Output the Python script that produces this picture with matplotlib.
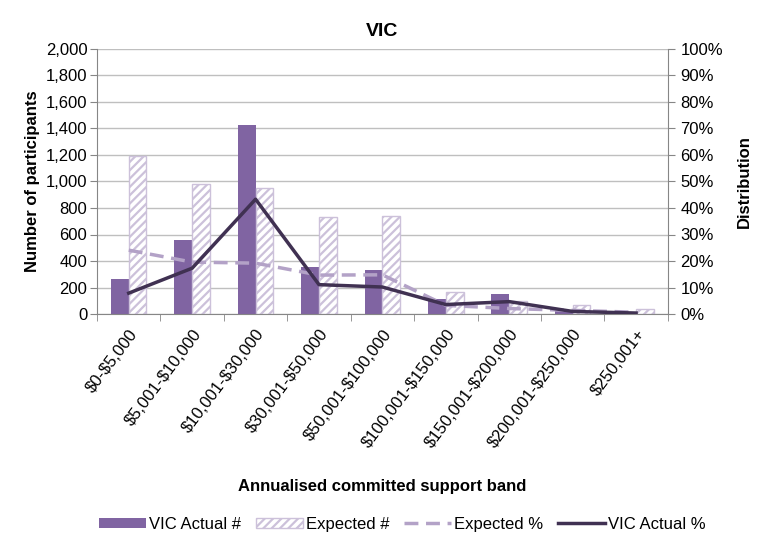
import numpy as np
import matplotlib
matplotlib.use("Agg")
import matplotlib.pyplot as plt
from matplotlib.patches import Patch
from matplotlib.lines import Line2D
from matplotlib.ticker import FuncFormatter, PercentFormatter

plt.rcParams['font.family'] = ['Liberation Sans', 'DejaVu Sans']
plt.rcParams['text.parse_math'] = False
plt.rcParams['hatch.linewidth'] = 1.6

bands = ['$0-$5,000', '$5,001-$10,000', '$10,001-$30,000', '$30,001-$50,000',
         '$50,001-$100,000', '$100,001-$150,000', '$150,001-$200,000',
         '$200,001-$250,000', '$250,001+']
actual_n = [265, 562, 1425, 358, 333, 114, 151, 25, 5]
expected_n = [1192, 980, 953, 729, 736, 164, 102, 69, 35]
expected_pct = [24.1, 19.6, 19.2, 14.7, 14.8, 3.3, 2.1, 1.4, 0.7]
actual_pct = [7.9, 17.3, 43.3, 11.1, 10.2, 3.6, 4.7, 1.0, 0.4]

c_actual = '#8064A2'
c_expected = '#CCC1DA'
c_exp_line = '#B3A2C7'
c_act_line = '#403152'
c_axis = '#868686'
c_grid = '#BFBFBF'
fs = 12

fig = plt.figure(figsize=(7.58, 5.36), dpi=100)
ax = fig.add_axes([0.128, 0.414, 0.753, 0.495])
x = np.arange(len(bands))
w = 0.28

ax.bar(x, actual_n, width=-w, align='edge', color=c_actual, zorder=2)
ax.bar(x, expected_n, width=w, align='edge', facecolor='white',
       edgecolor=c_expected, hatch='////', linewidth=1.0, zorder=2)

ax.set_xlim(-0.5, len(bands) - 0.5)
ax.set_ylim(0, 2000)
ax.set_yticks(np.arange(0, 2001, 200))
ax.yaxis.set_major_formatter(FuncFormatter(lambda v, p: f'{int(v):,}'))
ax.yaxis.grid(True, color=c_grid, linewidth=1, zorder=0)
ax.set_axisbelow(True)

# category labels at centres, tick marks on the band boundaries
ax.set_xticks(x)
ax.set_xticklabels(bands, rotation=53, ha='right', rotation_mode='anchor', fontsize=fs)
ax.tick_params(axis='x', which='major', length=0, pad=9)
ax.set_xticks(np.arange(-0.5, len(bands)), minor=True)
ax.tick_params(axis='x', which='minor', length=5, color=c_axis, direction='out')
ax.tick_params(axis='y', length=5, color=c_axis, labelsize=fs, pad=2)

for s in ['top', 'right']:
    ax.spines[s].set_visible(False)
for s in ['left', 'bottom']:
    ax.spines[s].set_color(c_axis)

ax.set_ylabel('Number of participants', fontsize=fs, fontweight='bold', labelpad=4)
ax.set_xlabel('Annualised committed support band', fontsize=fs, fontweight='bold', labelpad=20)
ax.set_title('VIC', fontsize=14, fontweight='bold', pad=9)

ax2 = ax.twinx()
ax2.plot(x, expected_pct, color=c_exp_line, linewidth=2.5, dashes=(4, 2.2), zorder=3)
ax2.plot(x, actual_pct, color=c_act_line, linewidth=2.5, zorder=4)
ax2.set_ylim(0, 100)
ax2.set_yticks(np.arange(0, 101, 10))
ax2.yaxis.set_major_formatter(PercentFormatter(decimals=0))
ax2.tick_params(axis='y', length=5, color=c_axis, labelsize=fs, pad=4)
for s in ['top', 'left', 'bottom']:
    ax2.spines[s].set_visible(False)
ax2.spines['right'].set_color(c_axis)
ax2.set_ylabel('Distribution', fontsize=fs, fontweight='bold', labelpad=10)

handles = [
    Patch(facecolor=c_actual, edgecolor='none'),
    Patch(facecolor='white', edgecolor=c_expected, hatch='////'),
    Line2D([0], [0], color=c_exp_line, linewidth=2.5, dashes=(4, 2.2)),
    Line2D([0], [0], color=c_act_line, linewidth=2.5),
]
labels = ['VIC Actual #', 'Expected #', 'Expected %', 'VIC Actual %']
fig.legend(handles, labels, loc='center', bbox_to_anchor=(0.531, 0.022), ncol=4,
           frameon=False, fontsize=fs, handlelength=2.8, handleheight=0.55,
           columnspacing=0.9, handletextpad=0.2)

fig.savefig('out.png', dpi=100)
